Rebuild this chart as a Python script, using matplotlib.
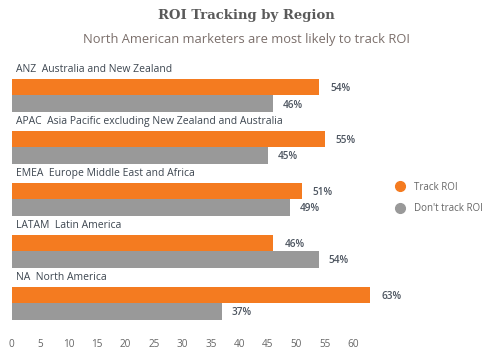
import numpy as np
import matplotlib.pyplot as plt
from matplotlib.lines import Line2D

regions = ["ANZ  Australia and New Zealand",
           "APAC  Asia Pacific excluding New Zealand and Australia",
           "EMEA  Europe Middle East and Africa",
           "LATAM  Latin America",
           "NA  North America"]
track = [54, 55, 51, 46, 63]
dont_track = [46, 45, 49, 54, 37]
ticks = list(range(0, 65, 5))

ORANGE = "#F47B20"
GRAY = "#999999"
TXT = "#4d5560"

# 0 -> 11.7 px, 60 -> 353 px
px_per = (353 - 11.7) / 60
xmax = 70
fig = plt.figure(figsize=(4.93, 3.53), dpi=100)
ax = fig.add_axes([11.7 / 493, 1 - 325 / 353, xmax * px_per / 493, 265 / 353])

h = 0.32
y = np.arange(len(regions))
ax.barh(y, track, height=h, color=ORANGE)
ax.barh(y + h, dont_track, height=h, color=GRAY)

for i in range(len(regions)):
    ax.text(0.7, y[i] - 0.33, regions[i], fontsize=7.5, color="#3d4650",
            family="Open Sans", va="center", ha="left")
    ax.annotate(f"{track[i]}%", (track[i], y[i]), xytext=(8, -1),
                textcoords="offset points", fontsize=7.2, color=TXT,
                family="Open Sans", fontweight="semibold", va="center",
                annotation_clip=False)
    ax.annotate(f"{dont_track[i]}%", (dont_track[i], y[i] + h), xytext=(7, -1),
                textcoords="offset points", fontsize=7.2, color=TXT,
                family="Open Sans", fontweight="semibold", va="center",
                annotation_clip=False)

ax.set_xlim(0, xmax)
ax.set_ylim(4.58, -0.52)
ax.set_xticks(ticks)
ax.set_xticklabels([str(t) for t in ticks], fontsize=7.2, color="#666666",
                   family="Open Sans")
ax.tick_params(axis="x", length=0, pad=10)
ax.set_yticks([])
for s in ax.spines.values():
    s.set_visible(False)

handles = [Line2D([], [], marker="o", linestyle="", markersize=7,
                  color=ORANGE, label="Track ROI"),
           Line2D([], [], marker="o", linestyle="", markersize=7,
                  color=GRAY, label="Don't track ROI")]
leg = fig.legend(handles=handles, loc="center left",
                 bbox_to_anchor=(385 / 493, 1 - 198 / 353), frameon=False,
                 prop={"family": "Open Sans", "size": 7},
                 handletextpad=0.9, labelspacing=1.1, handlelength=1.2)
for t in leg.get_texts():
    t.set_color("#666666")

fig.text(0.5, 1 - 16 / 353, "ROI Tracking by Region", ha="center",
         va="center", fontsize=9.5, fontweight="bold", color="#5a5a5a",
         family="DejaVu Serif")
fig.text(0.5, 1 - 40 / 353, "North American marketers are most likely to track ROI",
         ha="center", va="center", fontsize=9.3, color="#7a6e6a",
         family="Open Sans")

fig.savefig("out.png", dpi=100, facecolor="white")
